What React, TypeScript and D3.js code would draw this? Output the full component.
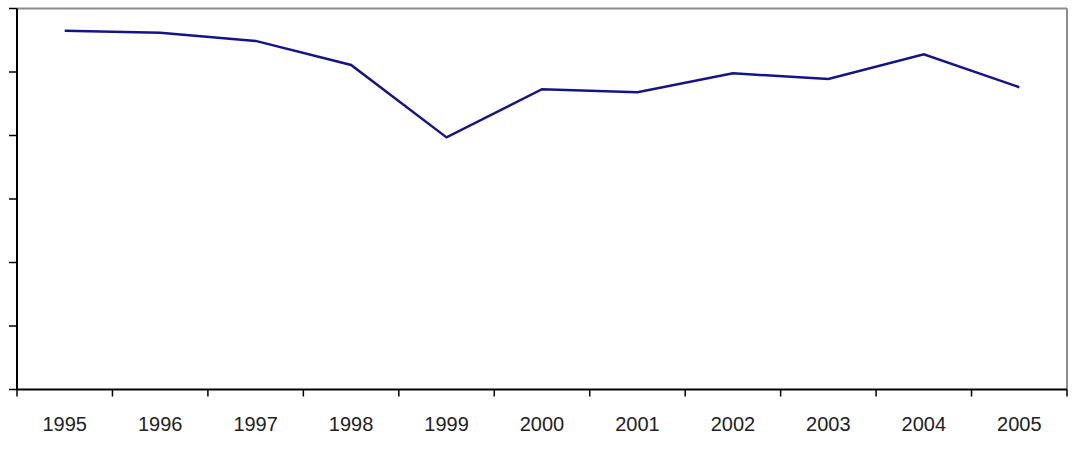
import React from "react";
import * as d3 from "d3";

// Years on the category axis
const years = ["1995", "1996", "1997", "1998", "1999", "2000", "2001", "2002", "2003", "2004", "2005"];
// Series values (y axis has no labels, 0..6 scale)
const values = [5.65, 5.62, 5.49, 5.11, 3.97, 4.73, 4.68, 4.98, 4.89, 5.28, 4.76];
// Unlabelled y ticks
const yTicks = [0, 1, 2, 3, 4, 5, 6];

const W = 1080;
const H = 460;
const margin = { top: 8.5, right: 13, bottom: 70.5, left: 17 };

const App = () => {
    const innerW = W - margin.left - margin.right;
    const innerH = H - margin.top - margin.bottom;

    const x = d3.scaleBand<string>()
        .domain(years)
        .range([margin.left, margin.left + innerW])
        .paddingInner(0)
        .paddingOuter(0);

    const y = d3.scaleLinear()
        .domain([0, 6])
        .range([margin.top + innerH, margin.top]);

    const line = d3.line<number>()
        .x((_, i) => (x(years[i]) ?? 0) + x.bandwidth() / 2)
        .y(d => y(d));

    // band boundaries for the x ticks
    const bounds = years.map(yr => x(yr) ?? 0).concat([x.range()[1]]);

    const left = margin.left;
    const right = margin.left + innerW;
    const top = margin.top;
    const bottom = margin.top + innerH;

    return (
        <svg
            width={W}
            height={H}
            style={{ position: "absolute", left: 0, top: 0, background: "#fff" }}
        >
            {/* plot frame: top and right in gray */}
            <line x1={left} x2={right} y1={top} y2={top} stroke="#8c8c8c" strokeWidth={2} />
            <line x1={right} x2={right} y1={top} y2={bottom} stroke="#8c8c8c" strokeWidth={2} />

            {/* y axis */}
            <line x1={left} x2={left} y1={top} y2={bottom} stroke="#000" strokeWidth={2} />
            {yTicks.map(t => (
                <line key={t} x1={left - 8} x2={left} y1={y(t)} y2={y(t)} stroke="#000" strokeWidth={1.5} />
            ))}

            {/* x axis */}
            <line x1={left} x2={right} y1={bottom} y2={bottom} stroke="#000" strokeWidth={2} />
            {bounds.map((b, i) => (
                <line key={i} x1={b} x2={b} y1={bottom} y2={bottom + 7} stroke="#000" strokeWidth={1.5} />
            ))}
            {years.map(yr => (
                <text
                    key={yr}
                    x={(x(yr) ?? 0) + x.bandwidth() / 2}
                    y={bottom + 41}
                    textAnchor="middle"
                    fontFamily="'Liberation Sans', Arial, sans-serif"
                    fontSize={20}
                    fill="#222"
                >
                    {yr}
                </text>
            ))}

            {/* series */}
            <path d={line(values) ?? ""} fill="none" stroke="#14148a" strokeWidth={2.5} strokeLinejoin="miter" />
        </svg>
    );
};

export default App;
